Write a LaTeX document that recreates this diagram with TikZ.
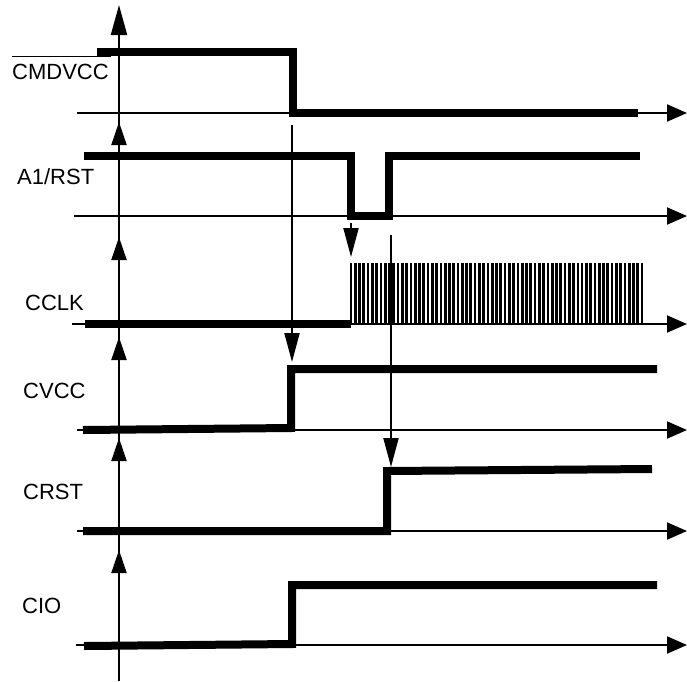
\documentclass[tikz,border=0pt]{standalone}
\usepackage{fontspec}
\setmainfont{Liberation Sans}
\usetikzlibrary{arrows.meta}

\begin{document}
\begin{tikzpicture}[x=1pt,y=-1pt,
		signal/.style={line width=8pt,line join=miter},
		axis/.style={line width=2pt},
		timearrow/.style={axis,-{Triangle[length=20pt,width=17pt]}},
		levelarrow/.style={axis,-{Triangle[length=23pt,width=15pt]}},
		trigger/.style={axis,-{Triangle[length=29pt,width=15pt]}},
		clockbar/.style={line width=2.7pt},
		lbl/.style={inner sep=0pt,anchor=west,font=\fontsize{22}{26}\selectfont}]
		\useasboundingbox (0,0) rectangle (687,681);
		% Names of the lines
		\node[lbl] (cmd) at (12,72) {CMDVCC};
		\node[lbl] (rst) at (17,177) {A1/RST};
		\node[lbl] (clk) at (25,303) {CCLK};
		\node[lbl] (vcc) at (23,391) {CVCC};
		\node[lbl] (crst) at (23,492) {CRST};
		\node[lbl] (cio) at (22,606) {CIO};
		\draw[axis,line width=1.3pt] ([yshift=7.5pt]cmd.north west) -- ([xshift=2pt,yshift=7.5pt]cmd.north east);
		% Vertical axis
		\draw[axis] (119,681) -- (119,30);
		\draw[axis,-{Triangle[length=30pt,width=16pt]}] (119,40) -- (119,5);
		\foreach \tip in {122,237,337,438,550}
			\draw[levelarrow] (119,\tip+30) -- (119,\tip);
		% Time axes
		\draw[timearrow] (77,113) -- (687,113);
		\draw[timearrow] (74,216) -- (687,216);
		\draw[timearrow] (72,324) -- (687,324);
		\draw[timearrow] (77,430) -- (687,430);
		\draw[timearrow] (77,531) -- (687,531);
		\draw[timearrow] (76,645) -- (687,645);
		% Signals
		\draw[signal] (97,52) -- (293,52) -- (293,113) -- (638,113);
		\draw[signal] (84,156) -- (351,156) -- (351,216) -- (389,216) -- (389,156) -- (640,156);
		\draw[signal] (85,324) -- (351,324);
		\foreach \i in {0,...,68}
			\draw[clockbar] ({351+\i*4.28},263) -- ++(0,61);
		\draw[signal] (83,430) -- (291,428) -- (291,369) -- (657,369);
		\draw[signal] (83,531) -- (387,531) -- (387,471) -- (652,469);
		\draw[signal] (84,646) -- (292,644) -- (292,585) -- (657,585);
		% Draw arrows
		\coordinate (fall) at (292,125);
		\coordinate (vccup) at (292,362);
		\coordinate (rstlow) at (351,223);
		\coordinate (clkon) at (351,257);
		\coordinate (rsthigh) at (391,235);
		\coordinate (crstup) at (391,467);
		\draw[trigger] (fall) -- (vccup);
		\draw[trigger] (rstlow) -- (clkon);
		\draw[trigger] (rsthigh) -- (crstup);
	\end{tikzpicture}
\end{document}
